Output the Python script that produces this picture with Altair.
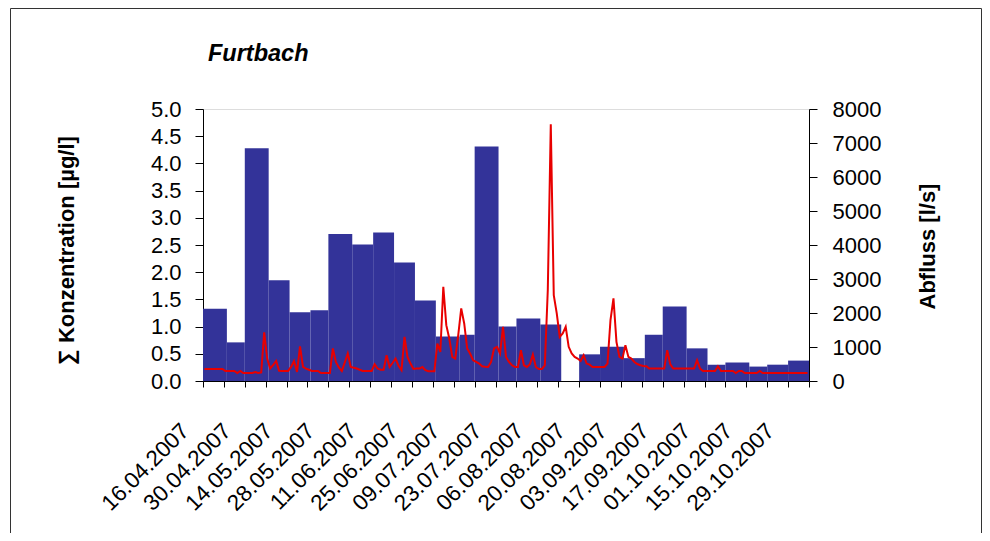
import altair as alt
import pandas as pd

# Sampling periods (start / end) and summed concentration [µg/l]
bar_start = ["2007-04-16", "2007-04-24", "2007-04-30", "2007-05-08", "2007-05-15",
             "2007-05-22", "2007-05-28", "2007-06-05", "2007-06-12", "2007-06-19",
             "2007-06-26", "2007-07-03", "2007-07-11", "2007-07-16", "2007-07-24",
             "2007-07-30", "2007-08-07", "2007-08-20", "2007-08-27", "2007-09-04",
             "2007-09-11", "2007-09-17", "2007-09-25", "2007-10-02", "2007-10-08",
             "2007-10-16", "2007-10-22", "2007-10-29"]
bar_end = ["2007-04-24", "2007-04-30", "2007-05-08", "2007-05-15", "2007-05-22",
           "2007-05-28", "2007-06-05", "2007-06-12", "2007-06-19", "2007-06-26",
           "2007-07-03", "2007-07-11", "2007-07-16", "2007-07-24", "2007-07-30",
           "2007-08-07", "2007-08-14", "2007-08-27", "2007-09-04", "2007-09-11",
           "2007-09-17", "2007-09-25", "2007-10-02", "2007-10-08", "2007-10-16",
           "2007-10-22", "2007-10-29", "2007-11-05"]
konzentration = [1.33, 0.71, 4.28, 1.85, 1.265, 1.30, 2.70, 2.51, 2.73, 2.18,
                 1.48, 0.82, 0.85, 4.31, 1.00, 1.15, 1.04,
                 0.49, 0.63, 0.42, 0.85, 1.37, 0.60, 0.30, 0.34, 0.265, 0.30, 0.375]

# Daily discharge [l/s] from 16.04.2007
abfluss_start = "2007-04-16"
abfluss = [354, 354, 354, 354, 354, 354, 354, 295, 295, 295,
           295, 236, 295, 236, 236, 236, 236, 265, 236, 250,
           1428, 660, 366, 470, 590, 300, 295, 295, 295, 413,
           590, 265, 1015, 413, 366, 330, 295, 295, 295, 236,
           236, 236, 236, 956, 560, 400, 295, 550, 808, 413,
           390, 366, 330, 295, 295, 295, 295, 493, 366, 330,
           330, 758, 413, 530, 660, 450, 318, 1298, 708, 512,
           354, 366, 366, 413, 318, 286, 286, 286, 1103, 855,
           2773, 1643, 1250, 708, 660, 1348, 2135, 1693, 956, 800,
           610, 560, 512, 433, 420, 413, 560, 956, 1005, 808,
           1594, 708, 560, 463, 413, 413, 906, 463, 413, 493,
           777, 413, 354, 354, 463, 2676, 7550, 2528, 1988, 1298,
           1397, 1594, 1005, 808, 708, 660, 590, 758, 512, 480,
           413, 413, 413, 413, 413, 512, 1791, 2430, 1152, 708,
           660, 1053, 708, 660, 560, 500, 463, 440, 433, 366,
           366, 366, 366, 366, 366, 906, 500, 366, 366, 366,
           366, 366, 366, 366, 366, 610, 366, 295, 295, 295,
           295, 295, 433, 295, 295, 295, 295, 295, 236, 295,
           295, 236, 236, 236, 236, 236, 295, 236, 236, 236,
           236, 236, 236, 236, 236, 236, 236, 236, 236, 236,
           236, 236, 236]

title_text = "Furtbach"
FONT = "Liberation Sans"

bars_df = pd.DataFrame({
    "start": pd.to_datetime(bar_start).tz_localize("UTC"),
    "end": pd.to_datetime(bar_end).tz_localize("UTC"),
    "konz": konzentration,
})
line_df = pd.DataFrame({
    "datum": pd.date_range(abfluss_start, periods=len(abfluss), freq="D", tz="UTC")
             + pd.Timedelta(hours=12),
    "abfluss": abfluss,
})

t0 = pd.Timestamp("2007-04-16", tz="UTC")
t_end = pd.Timestamp("2007-11-05", tz="UTC")
week_ticks = pd.date_range(t0, t_end, freq="7D")
tick_values = [alt.DateTime(year=t.year, month=t.month, date=t.day, utc=True) for t in week_ticks]
T0_MS = int(t0.value // 10**6)

x_scale = alt.Scale(
    type="utc",
    domain=[alt.DateTime(year=2007, month=4, date=16, utc=True),
            alt.DateTime(year=2007, month=11, date=5, utc=True)],
    nice=False,
)

x_axis = alt.Axis(
    title=None,
    values=tick_values,
    labelExpr=f"round((datum.value - {T0_MS}) / 86400000) % 14 === 0 ? utcFormat(datum.value, '%d.%m.%Y') : ''",
    labelAngle=315,
    labelAlign="right",
    labelBaseline="middle",
    labelOffset=-18,
    labelPadding=40,
    labelFont=FONT,
    labelFontSize=22.5,
    labelColor="black",
    labelOverlap=False,
    labelBound=False,
    labelFlush=False,
    tickSize=6,
    tickColor="black",
    domainColor="black",
    grid=False,
)

bars = alt.Chart(bars_df).mark_bar(color="#333399").encode(
    x=alt.X("start:T", scale=x_scale, axis=x_axis),
    x2="end:T",
    y=alt.Y("konz:Q",
            scale=alt.Scale(domain=[0, 5], nice=False, zero=True),
            axis=alt.Axis(
                title="∑ Konzentration [µg/l]",
                values=[i * 0.5 for i in range(11)],
                format=".1f",
                orient="left",
                labelFont=FONT, labelFontSize=22, labelColor="black", labelPadding=14,
                tickSize=8, tickColor="black", domainColor="black", grid=False,
                titleFont=FONT, titleFontSize=22, titleFontWeight="bold", titleColor="black",
                titleAngle=270, titleX=-137, titleY=141,
                titleAlign="center", titleBaseline="middle",
            )),
    y2=alt.datum(0),
)

line = alt.Chart(line_df).mark_line(color="#E80000", strokeWidth=2).encode(
    x=alt.X("datum:T", scale=x_scale, axis=x_axis),
    y=alt.Y("abfluss:Q",
            scale=alt.Scale(domain=[0, 8000], nice=False),
            axis=alt.Axis(
                title="Abfluss [l/s]",
                values=[i * 1000 for i in range(9)],
                format="d",
                orient="right",
                labelFont=FONT, labelFontSize=22, labelColor="black", labelPadding=15,
                tickSize=8, tickColor="black", domainColor="black", grid=False,
                titleFont=FONT, titleFontSize=22, titleFontWeight="bold", titleColor="black",
                titleAngle=270, titleX=118, titleY=137,
                titleAlign="center", titleBaseline="middle",
            )),
)

deco_df = pd.DataFrame({"title": [title_text]})

title_mark = alt.Chart(deco_df).mark_text(
    font=FONT, fontSize=23.5, fontStyle="italic", fontWeight="bold", color="black",
    align="left", baseline="alphabetic",
).encode(
    text="title:N", x=alt.value(5), y=alt.value(-48),
)

frame = alt.Chart(deco_df).mark_rect(
    fill="white", fillOpacity=0, stroke="#333333", strokeWidth=1
).encode(
    x=alt.value(-192.5), x2=alt.value(778.5),
    y=alt.value(-100.5), y2=alt.value(460),
)

chart = alt.layer(bars, line, title_mark, frame).resolve_scale(y="independent").properties(
    width=606,
    height=272,
    autosize=alt.AutoSizeParams(type="none"),
    padding={"left": 195, "top": 101, "right": 173, "bottom": 152},
).configure_view(strokeOpacity=0, strokeWidth=0).configure_axis(grid=False).configure(background="white")

chart.save("out.html", embed_options={"renderer": "svg", "actions": False})
